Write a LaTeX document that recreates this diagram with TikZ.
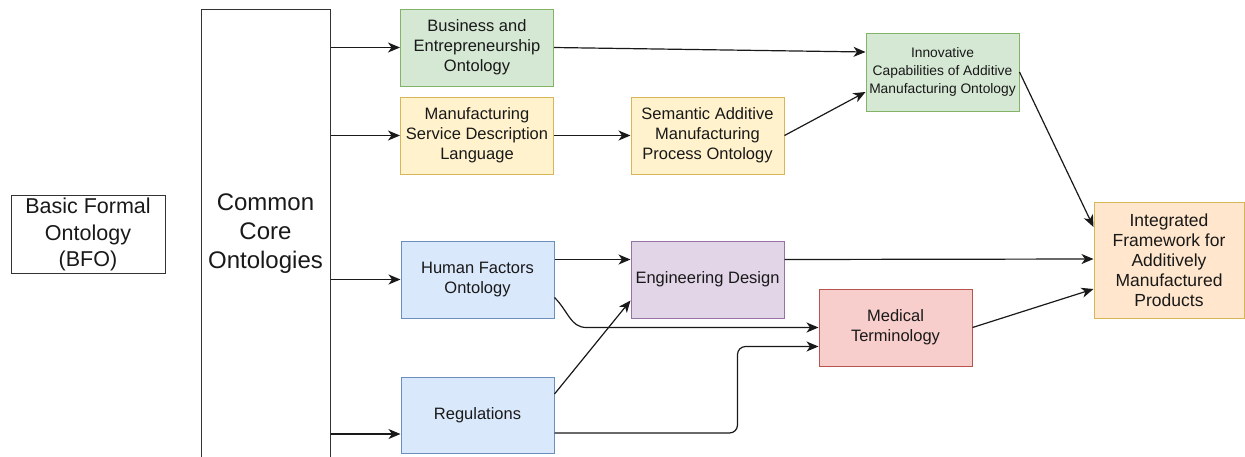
\documentclass[tikz,border=0pt]{standalone}
\usepackage{fontspec}
\setmainfont{Liberation Sans}
\usetikzlibrary{positioning,arrows.meta}
\newcommand\boxw{153pt}
\newcommand\boxh{77pt}
\definecolor{grnfill}{HTML}{D5E8D4}\definecolor{grnline}{HTML}{82B366}
\definecolor{ylwfill}{HTML}{FFF2CC}\definecolor{ylwline}{HTML}{D6B656}
\definecolor{blufill}{HTML}{DAE8FC}\definecolor{bluline}{HTML}{6C8EBF}
\definecolor{prpfill}{HTML}{E1D5E7}\definecolor{prpline}{HTML}{9673A6}
\definecolor{redfill}{HTML}{F8CECC}\definecolor{redline}{HTML}{B85450}
\definecolor{orgfill}{HTML}{FFE6CC}
\tikzset{box/.style={rectangle,draw=black!80,line width=1pt,minimum width=\boxw,minimum height=\boxh,align=center,inner sep=2pt,text=black!90,font=\fontsize{16.5}{20}\selectfont},
  grnbox/.style={box,fill=grnfill,draw=grnline},
  ylwbox/.style={box,fill=ylwfill,draw=ylwline},
  blubox/.style={box,fill=blufill,draw=bluline},
  prpbox/.style={box,fill=prpfill,draw=prpline},
  redbox/.style={box,fill=redfill,draw=redline},
  arr/.style={-{Stealth[length=12pt,width=10pt,inset=3.5pt]},line width=1.2pt,draw=black!90}}

\begin{document}
\begin{tikzpicture}[x=1pt,y=-1pt]
                \useasboundingbox (0,0) rectangle (1245,456);
                \node[box,minimum width=154pt,font=\fontsize{21.5}{26.5}\selectfont] (bfo) at (88,234.5) {Basic Formal\\Ontology\\(BFO)};
                \node[box,minimum width=129pt,minimum height=449pt,font=\fontsize{24}{29}\selectfont] (cco) at (265.5,233.5) {Common\\Core\\Ontologies};

                \node[grnbox] (biz) at (477,47.5) {Business and\\Entrepreneurship\\Ontology};
                \node[ylwbox] (msdl) at (477,135.5) {Manufacturing\\Service Description\\Language};
                \node[ylwbox] (sampo) at (707.5,135.5) {Semantic Additive\\Manufacturing\\Process Ontology};
                \node[grnbox,minimum height=78pt,font=\fontsize{13.8}{18}\selectfont] (inn) at (942.5,72) {Innovative\\Capabilities of Additive\\Manufacturing Ontology};

                \node[blubox] (hf) at (477.5,279.5) {Human Factors\\Ontology};
                \node[blubox,minimum height=76pt] (reg) at (477.5,415) {Regulations};
                \node[prpbox] (ed) at (707.5,279.5) {Engineering Design};
                \node[redbox] (med) at (895.5,327.5) {Medical\\Terminology};
                \node[box,fill=orgfill,draw=ylwline,minimum width=150pt,minimum height=116pt,font=\fontsize{17.5}{20}\selectfont] (int) at (1169,260) {Integrated\\Framework for\\Additively\\Manufactured\\Products};

                \foreach \n in {biz,msdl,hf}{\draw[arr] (cco.east |- \n.west) -- (\n.west);}
                \draw[arr] ([yshift=-19pt]cco.east |- reg.west) -- ([yshift=-19pt]reg.west);

                \draw[arr] (biz.east) -- ([yshift=20pt]inn.west);
                \draw[arr] (msdl) -- (sampo);
                \draw[arr] (sampo.east) -- ([yshift=-20pt]inn.west);
                \draw[arr] (inn.east) -- ([yshift=33pt]int.west);

                \draw[arr] ([yshift=20pt]hf.east) -- ([yshift=20pt]ed.west);
                \draw[arr] ([yshift=-18pt]hf.east) .. controls +(14,14) and +(-16,0) .. ([xshift=32pt]hf.east |- med.west) -- (med.west);
                \draw[arr] ([yshift=21pt]reg.east) -- ([yshift=-21pt]ed.west);
                \draw[arr,rounded corners=8pt] ([yshift=-18pt]reg.east) -- ++(183,0) |- ([yshift=-19pt]med.west);
                \draw[arr] ([yshift=20pt]ed.east) -- ([yshift=1pt]int.west);
                \draw[arr] (med.east) -- ([yshift=-29pt]int.west);
            \end{tikzpicture}
\end{document}
